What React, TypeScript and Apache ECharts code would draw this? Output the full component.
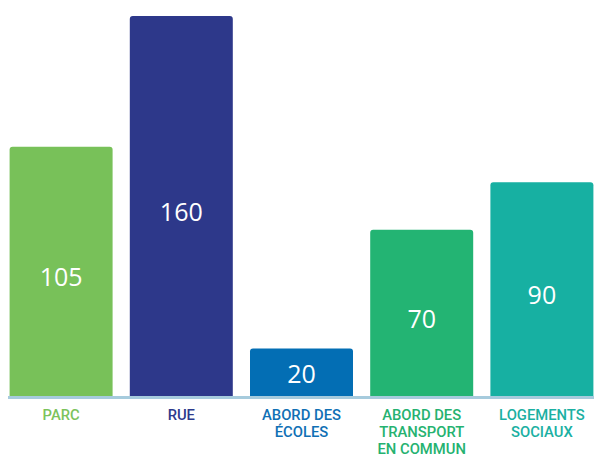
import React, { useEffect, useRef } from "react";
import * as echarts from "echarts";

const categories = ["PARC", "RUE", "ABORD DES\nÉCOLES", "ABORD DES\nTRANSPORT\nEN COMMUN", "LOGEMENTS\nSOCIAUX"];
const values = [105, 160, 20, 70, 90];
const barColors = ["#78c159", "#2d388a", "#036eb4", "#23b473", "#17b0a2"];
const labelColors = ["#7cc35c", "#2e3a8c", "#1070b5", "#25b270", "#1bb0a2"];

export default function App() {
  const ref = useRef<HTMLDivElement>(null);
  useEffect(() => {
    if (!ref.current) return;
    const chart = echarts.init(ref.current, null, { renderer: "svg" });
    const rich: Record<string, any> = {};
    labelColors.forEach((c, i) => {
      rich["c" + i] = {
        color: c,
        fontSize: 14.8,
        fontWeight: 500,
        fontFamily: "Roboto",
        lineHeight: 16.6,
        align: "center",
      };
    });
    chart.setOption({
      animation: false,
      grid: { left: 1, top: 16, right: -8, height: 380, containLabel: false, outerBoundsMode: "none" },
      xAxis: {
        type: "category",
        data: categories,
        axisLine: { show: false },
        axisTick: { show: false },
        axisLabel: {
          interval: 0,
          margin: 11,
          formatter: (v: string, i: number) =>
            v.split("\n").map((l) => `{c${i}|${l}}`).join("\n"),
          rich,
        },
      },
      yAxis: {
        type: "value",
        min: 0,
        max: 160,
        show: false,
        splitLine: { show: false },
      },
      graphic: [
        {
          type: "line",
          shape: { x1: 8, y1: 397.5, x2: 594, y2: 397.5 },
          style: { stroke: "#a6cbdd", lineWidth: 3 },
          z: 10,
        },
      ],
      series: [
        {
          type: "bar",
          barWidth: 103,
          data: values.map((v, i) => ({
            value: v,
            itemStyle: { color: barColors[i], borderRadius: [3, 3, 0, 0] },
            label: { offset: v < 40 ? [0, 1] : [0, 5] },
          })),
          label: {
            show: true,
            position: "inside",
            color: "#ffffff",
            fontSize: 25,
            fontFamily: "Open Sans",
            fontWeight: 500,
          },
        },
      ],
    });
    return () => chart.dispose();
  }, []);
  return (
    <div
      ref={ref}
      style={{ position: "fixed", left: 0, top: 0, width: 594, height: 456, background: "#ffffff" }}
    />
  );
}
